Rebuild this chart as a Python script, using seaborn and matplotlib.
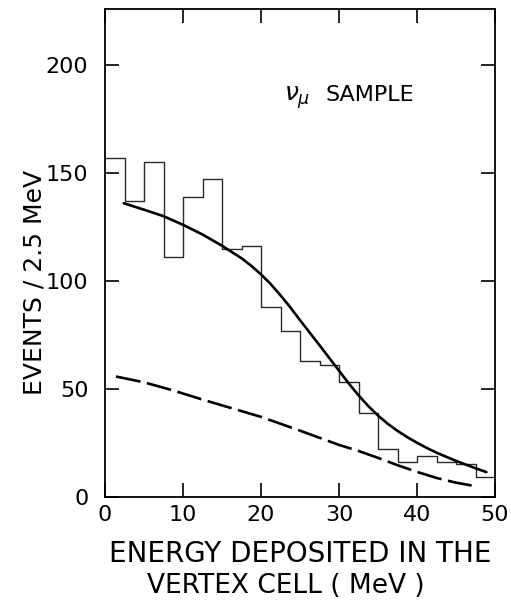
import pandas as pd
import matplotlib
matplotlib.use("Agg")
import matplotlib.pyplot as plt
import seaborn as sns

# Histogram of energy deposited in the vertex cell, 2.5 MeV bins
bin_width = 2.5
bin_centers = [1.25 + bin_width * i for i in range(20)]
counts = [157, 137, 155, 111, 139, 147, 115, 116, 88, 77,
          63, 61, 53, 39, 22, 16, 19, 16, 15, 9]

# Expected distribution (solid curve)
fit_x = [2.4, 5, 7.5, 10, 12.5, 15, 17.5, 18.75, 20, 21.25, 22.5, 23.75,
         25, 26.25, 27.5, 28.75, 30, 31.25, 32.5, 33.75, 35, 36.25, 37.5,
         38.75, 40, 41.25, 42.5, 45, 47.5, 48.9]
fit_y = [136, 133, 130, 126, 121.5, 116.3, 110.5, 107, 103, 98.5, 93.3, 87.8,
         81.8, 76, 70.2, 64.3, 58.4, 52.5, 47, 42, 37.6, 33.8, 30.5,
         27.6, 25, 22.6, 20.4, 16.6, 13.2, 11.4]

# Background component (dashed curve)
bkg_x = [1.4, 5, 8.5, 12.5, 17, 20, 25, 30, 32.5, 35, 37.5, 40, 42.5, 45, 47]
bkg_y = [55.7, 53, 49.5, 45, 40.2, 37, 30.6, 24, 21.2, 18, 14.6, 11.5, 8.7,
         6.5, 5.2]

x_ticks = [0, 10, 20, 30, 40, 50]
y_ticks = [0, 50, 100, 150, 200]

hist_df = pd.DataFrame({"energy": bin_centers, "events": counts})

sns.set_style("ticks")
plt.rcParams["font.family"] = ["DejaVu Sans"]
plt.rcParams["text.color"] = "black"
plt.rcParams["xtick.color"] = "black"
plt.rcParams["ytick.color"] = "black"
plt.rcParams["axes.edgecolor"] = "black"

fig = plt.figure(figsize=(5.11, 6.02), dpi=100)
ax = fig.add_axes([105 / 511, 1 - 496.7 / 602, 390 / 511, 487.7 / 602])

sns.histplot(data=hist_df, x="energy", weights="events", binwidth=bin_width,
             binrange=(0, 50), element="step", fill=False,
             color="#2a2a2a", linewidth=1.0, ax=ax)
sns.lineplot(x=fit_x, y=fit_y, color="black", linewidth=1.9, ax=ax)
sns.lineplot(x=bkg_x, y=bkg_y, color="black", linewidth=1.9,
             linestyle=(0, (9.5, 2.5)), ax=ax)

ax.set_xlim(0, 50)
ax.set_ylim(0, 226)
ax.set_xticks(x_ticks)
ax.set_yticks(y_ticks)
ax.set_xlabel("")
ax.set_ylabel("")
for s in ax.spines.values():
    s.set_visible(True)
    s.set_linewidth(1.3)
    s.set_color("black")

ax.tick_params(axis="both", direction="in", length=10, width=1.2,
               top=True, right=True, labelsize=16, color="black",
               labelcolor="black")
ax.tick_params(axis="y", pad=12)
ax.tick_params(axis="x", pad=6)

ax.text(23.0, 185, r"$\nu_\mu$", fontsize=18, ha="left", va="center")
ax.text(28.3, 186, "SAMPLE", fontsize=16, ha="left", va="center")

fig.text(35 / 511, 1 - 282 / 602, "EVENTS / 2.5 MeV", rotation=90,
         fontsize=18, ha="center", va="center")
fig.text(300 / 511, 1 - 554 / 602, "ENERGY DEPOSITED IN THE",
         fontsize=20, ha="center", va="center")
fig.text(286 / 511, 1 - 586 / 602, "VERTEX CELL ( MeV )",
         fontsize=19, ha="center", va="center")

fig.savefig("out.png", dpi=100)
